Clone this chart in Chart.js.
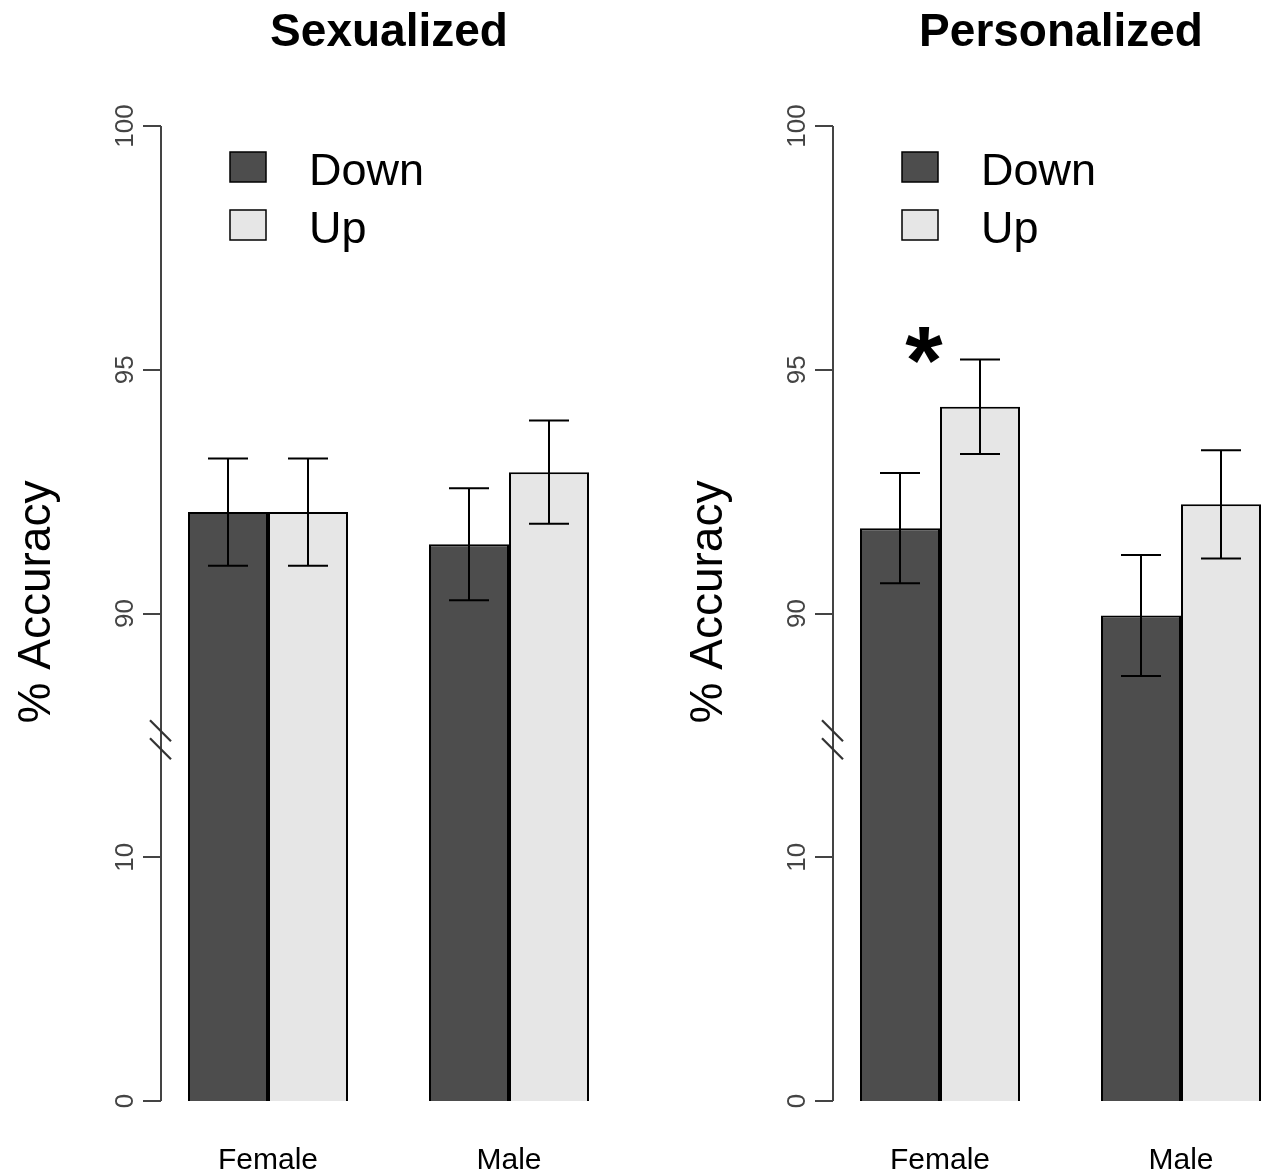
<!DOCTYPE html>
<html>
<head>
<meta charset="utf-8">
<script src="https://cdn.jsdelivr.net/npm/chart.js@4.4.1/dist/chart.umd.min.js"></script>
<style>
  html, body { margin: 0; padding: 0; background: #fff; overflow: hidden; }
  #wrap { position: relative; width: 1267px; height: 1173px; overflow: hidden; }
  canvas { position: absolute; top: 0; }
</style>
</head>
<body>
<div id="wrap">
  <canvas id="sexChart" width="640" height="1173" style="left:0px"></canvas>
  <canvas id="persChart" width="640" height="1173" style="left:672px"></canvas>
</div>
<script>
// data
const categories = ["Female", "Male"];
const seriesNames = ["Down", "Up"];
const tickValues = [0, 10, 90, 95, 100];
const tickLabels = ["0", "10", "90", "95", "100"];

const sexDown = [92.08, 91.42];
const sexUp = [92.08, 92.9];
const sexDownErr = [1.1, 1.15];
const sexUpErr = [1.1, 1.06];

const persDown = [91.75, 89.96];
const persUp = [94.24, 92.24];
const persDownErr = [1.13, 1.24];
const persUpErr = [0.97, 1.11];

// significance marks: [category index, value where it sits]
const sexStars = [];
const persStars = [[0, 95.55]];

const DARK = "#4d4d4d";
const LIGHT = "#e6e6e6";
const FONT = "'Liberation Sans', Arial, Helvetica, sans-serif";

// broken axis: 0-10 on the lower segment, 90-100 stretched above the break
function toPos(v) {
  if (v <= 10) return v / 10;
  if (v >= 87.5) return 2 + (v - 90) / 5;
  return 1 + (v - 10) / 77.5 * 0.5;
}

const panelDeco = {
  id: "panelDeco",
  afterDatasetsDraw(chart, args, opts) {
    const ctx = chart.ctx;
    const y = chart.scales.y;
    const axisX = 161;

    // error bars
    const errs = [opts.errDown, opts.errUp];
    chart.data.datasets.forEach((ds, i) => {
      const meta = chart.getDatasetMeta(i);
      meta.data.forEach((bar, j) => {
        const v = ds.raw[j], e = errs[i][j];
        const yHi = y.getPixelForValue(toPos(v + e));
        const yLo = y.getPixelForValue(toPos(v - e));
        ctx.save();
        ctx.strokeStyle = "#000";
        ctx.lineWidth = 2;
        ctx.beginPath();
        ctx.moveTo(bar.x, yHi); ctx.lineTo(bar.x, yLo);
        ctx.moveTo(bar.x - 20, yHi); ctx.lineTo(bar.x + 20, yHi);
        ctx.moveTo(bar.x - 20, yLo); ctx.lineTo(bar.x + 20, yLo);
        ctx.stroke();
        ctx.restore();
      });
    });

    // y axis line, ticks and labels
    const yTop = y.getPixelForValue(toPos(100));
    const yBot = y.getPixelForValue(toPos(0));
    ctx.save();
    ctx.strokeStyle = "#444";
    ctx.lineWidth = 2;
    ctx.beginPath();
    ctx.moveTo(axisX, yTop); ctx.lineTo(axisX, yBot);
    tickValues.forEach(t => {
      const py = Math.round(y.getPixelForValue(toPos(t)));
      ctx.moveTo(axisX - 18, py); ctx.lineTo(axisX, py);
    });
    ctx.stroke();

    // break marks
    const by = y.getPixelForValue(1.48);
    ctx.strokeStyle = "#333";
    ctx.lineWidth = 2.2;
    ctx.beginPath();
    ctx.moveTo(axisX - 11, by - 20); ctx.lineTo(axisX + 10, by + 1);
    ctx.moveTo(axisX - 11, by - 2); ctx.lineTo(axisX + 10, by + 19);
    ctx.stroke();

    ctx.fillStyle = "#444";
    ctx.font = "26px " + FONT;
    ctx.textAlign = "center";
    ctx.textBaseline = "middle";
    tickValues.forEach((t, k) => {
      const py = y.getPixelForValue(toPos(t));
      ctx.save();
      ctx.translate(125, py);
      ctx.rotate(-Math.PI / 2);
      ctx.fillText(tickLabels[k], 0, 1);
      ctx.restore();
    });

    // axis title
    ctx.fillStyle = "#000";
    ctx.font = "46px " + FONT;
    ctx.save();
    ctx.translate(37, 602);
    ctx.rotate(-Math.PI / 2);
    ctx.fillText("% Accuracy", 0, 0);
    ctx.restore();

    // panel title
    ctx.font = "bold 46px " + FONT;
    ctx.fillText(opts.title, 389, 33);

    // legend
    const fills = [DARK, LIGHT];
    seriesNames.forEach((name, k) => {
      const top = 152 + k * 58;
      ctx.fillStyle = fills[k];
      ctx.fillRect(230, top, 36, 30);
      ctx.strokeStyle = "#000";
      ctx.lineWidth = 1.5;
      ctx.strokeRect(230, top, 36, 30);
      ctx.fillStyle = "#000";
      ctx.font = "45px " + FONT;
      ctx.textAlign = "left";
      ctx.textBaseline = "alphabetic";
      ctx.fillText(name, 309, top + 33);
    });

    // significance stars
    const x = chart.scales.x;
    opts.stars.forEach(s => {
      const cx = x.getPixelForValue(s[0]) - 16;
      const cy = y.getPixelForValue(toPos(s[1]));
      ctx.fillStyle = "#000";
      ctx.font = "bold 96px " + FONT;
      ctx.textAlign = "center";
      ctx.textBaseline = "alphabetic";
      ctx.fillText("*", cx, cy + 50);
    });
    ctx.restore();
  }
};

function makePanel(id, title, down, up, downErr, upErr, stars) {
  return new Chart(document.getElementById(id), {
    type: "bar",
    data: {
      labels: categories,
      datasets: [
        { label: seriesNames[0], raw: down, data: down.map(toPos),
          backgroundColor: DARK, borderColor: "#000", borderWidth: 2 },
        { label: seriesNames[1], raw: up, data: up.map(toPos),
          backgroundColor: LIGHT, borderColor: "#000", borderWidth: 2 }
      ]
    },
    options: {
      responsive: false,
      animation: false,
      layout: { padding: { left: 147.5, right: 10.5, top: 126, bottom: 0 } },
      datasets: { bar: { categoryPercentage: 160 / 241, barPercentage: 1 } },
      scales: {
        x: {
          grid: { display: false },
          border: { display: false },
          ticks: { color: "#000", font: { size: 30, family: FONT }, padding: 34 },
          afterFit(scale) { scale.height = 72; }
        },
        y: { display: false, min: 0, max: 4 }
      },
      plugins: {
        legend: { display: false },
        tooltip: { enabled: false },
        panelDeco: { title: title, errDown: downErr, errUp: upErr, stars: stars }
      }
    },
    plugins: [panelDeco]
  });
}

makePanel("sexChart", "Sexualized", sexDown, sexUp, sexDownErr, sexUpErr, sexStars);
makePanel("persChart", "Personalized", persDown, persUp, persDownErr, persUpErr, persStars);
</script>
</body>
</html>
